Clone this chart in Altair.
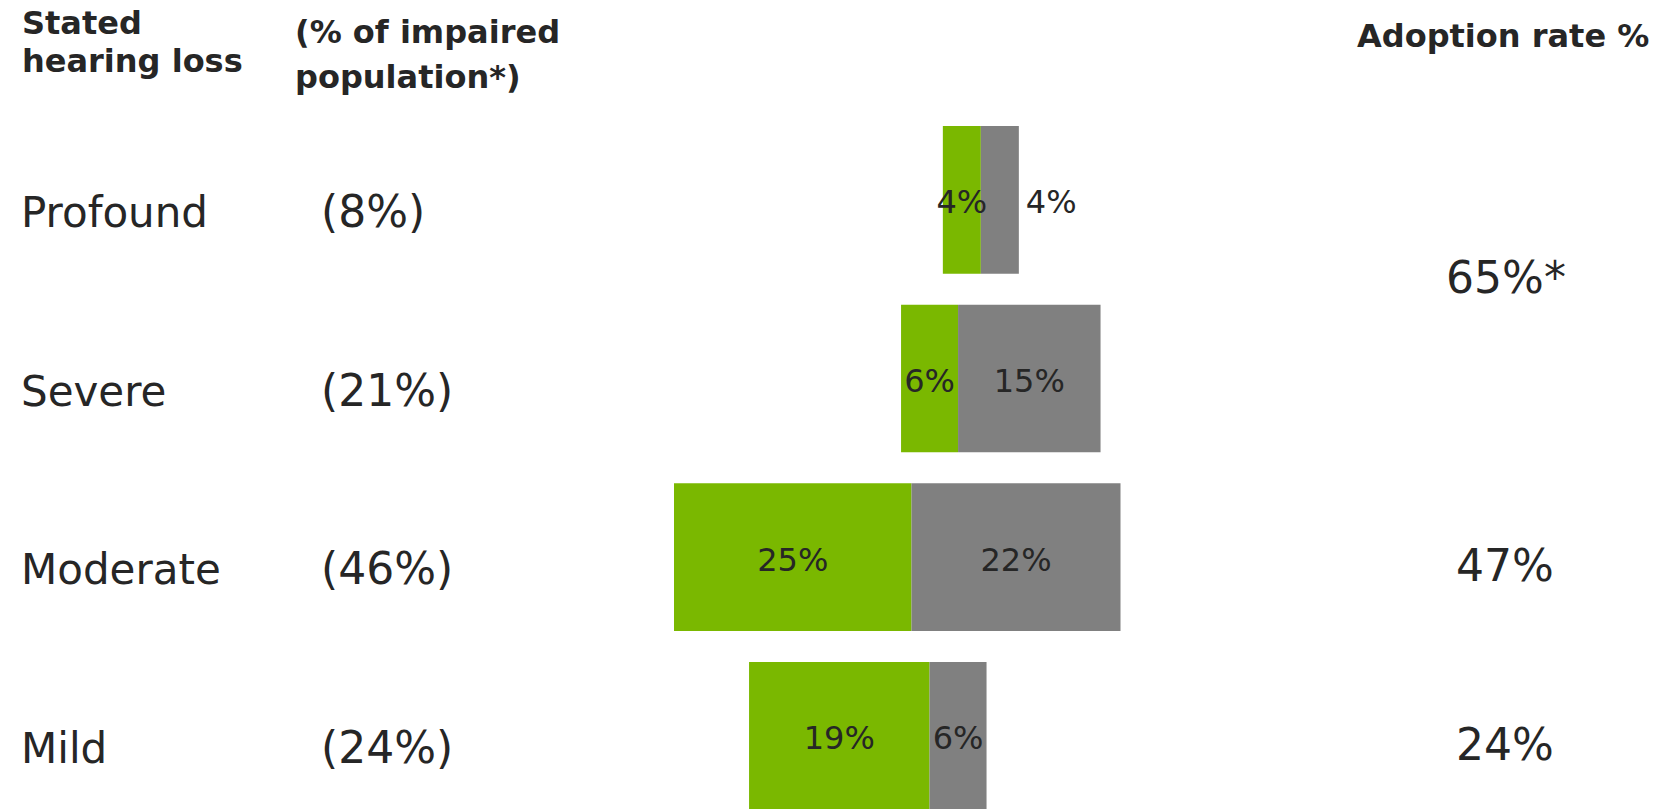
import altair as alt
import pandas as pd

# ---- data ----
rows = ["Profound", "Severe", "Moderate", "Mild"]
population_share = ["(8%)", "(21%)", "(46%)", "(24%)"]
lead = [28.3, 23.9, 0.0, 7.9]          # invisible spacer before each bar (% units)
green_vals = [4, 6, 25, 19]
gray_vals = [4, 15, 22, 6]
adoption_rows = ["Profound", "Moderate", "Mild"]
adoption_labels = ["65%*", "47%", "24%"]
header_col1 = ["Stated", "hearing loss"]
header_col2 = ["(% of impaired", "population*)"]
header_col3 = "Adoption rate %"

GREEN = "#7AB800"
GRAY = "#808080"
TXT = "#262626"
FONT = "DejaVu Sans"

# ---- tables built from the arrays ----
seg = []
for r, l, g, k in zip(rows, lead, green_vals, gray_vals):
    seg.append(dict(row=r, part="green", start=l, end=l + g, value=g,
                    label=f"{g}%", inside=True))
    seg.append(dict(row=r, part="gray", start=l + g, end=l + g + k, value=k,
                    label=f"{k}%", inside=k >= 5))
seg_df = pd.DataFrame(seg)
seg_df["mid"] = (seg_df["start"] + seg_df["end"]) / 2

rows_df = pd.DataFrame({"row": rows, "share": population_share})
adopt_df = pd.DataFrame({"row": adoption_rows, "label": adoption_labels})

y_scale = alt.Scale(domain=rows, range=[118, 801.7], paddingInner=0.1733, paddingOuter=0)
x_scale = alt.Scale(domain=[0, 50], range=[666, 1141], zero=False, nice=False)

base = alt.Chart(seg_df)

bars = base.mark_bar().encode(
    x=alt.X("start:Q", scale=x_scale, axis=None),
    x2="end:Q",
    y=alt.Y("row:N", scale=y_scale, axis=None),
    color=alt.Color("part:N", scale=alt.Scale(domain=["green", "gray"], range=[GREEN, GRAY]), legend=None),
)

inside_labels = base.transform_filter("datum.inside").mark_text(
    font=FONT, fontSize=32, color=TXT, align="center", baseline="alphabetic", dy=13.5
).encode(
    x=alt.X("mid:Q", scale=x_scale, axis=None),
    y=alt.Y("row:N", scale=y_scale, axis=None),
    text="label:N",
)

outside_labels = base.transform_filter("!datum.inside").mark_text(
    font=FONT, fontSize=32, color=TXT, align="left", baseline="alphabetic", dx=7, dy=13.5
).encode(
    x=alt.X("end:Q", scale=x_scale, axis=None),
    y=alt.Y("row:N", scale=y_scale, axis=None),
    text="label:N",
)

row_labels = alt.Chart(rows_df).mark_text(
    font=FONT, fontSize=42, color=TXT, align="left", baseline="alphabetic", dy=27
).encode(
    x=alt.value(13),
    y=alt.Y("row:N", scale=y_scale, axis=None),
    text="row:N",
)

share_labels = alt.Chart(rows_df).mark_text(
    font=FONT, fontSize=44, color=TXT, align="left", baseline="alphabetic", dy=27
).encode(
    x=alt.value(313),
    y=alt.Y("row:N", scale=y_scale, axis=None),
    text="share:N",
)

adopt_first = alt.Chart(adopt_df.iloc[:1]).mark_text(
    font=FONT, fontSize=44, color=TXT, align="center", baseline="alphabetic", dy=19
).encode(
    x=alt.value(1498),
    y=alt.Y("row:N", scale=y_scale, axis=None, bandPosition=1),
    text="label:N",
)

adopt_rest = alt.Chart(adopt_df.iloc[1:]).mark_text(
    font=FONT, fontSize=44, color=TXT, align="center", baseline="alphabetic", dy=24
).encode(
    x=alt.value(1497),
    y=alt.Y("row:N", scale=y_scale, axis=None),
    text="label:N",
)

hdr_df = pd.DataFrame({"k": [0]})


def header(txt, x, y):
    return alt.Chart(hdr_df).mark_text(
        font=FONT, fontSize=32, fontWeight="bold", color=TXT, align="left",
        baseline="alphabetic", text=txt
    ).encode(x=alt.value(x), y=alt.value(y))


h1a = header(header_col1[0], 14, 26)
h1b = header(header_col1[1], 14, 64)
h2a = header(header_col2[0], 287, 35)
h2b = header(header_col2[1], 287, 80)
h3 = header(header_col3, 1349, 39)

chart = alt.layer(
    bars, inside_labels, outside_labels, row_labels, share_labels,
    adopt_first, adopt_rest, h1a, h1b, h2a, h2b, h3
).properties(
    width=1644, height=801,
    autosize=alt.AutoSizeParams(type="none"),
    padding=0,
    background="white",
).configure_view(stroke=None)

chart.save("out.html", embed_options={"renderer": "svg", "actions": False})
